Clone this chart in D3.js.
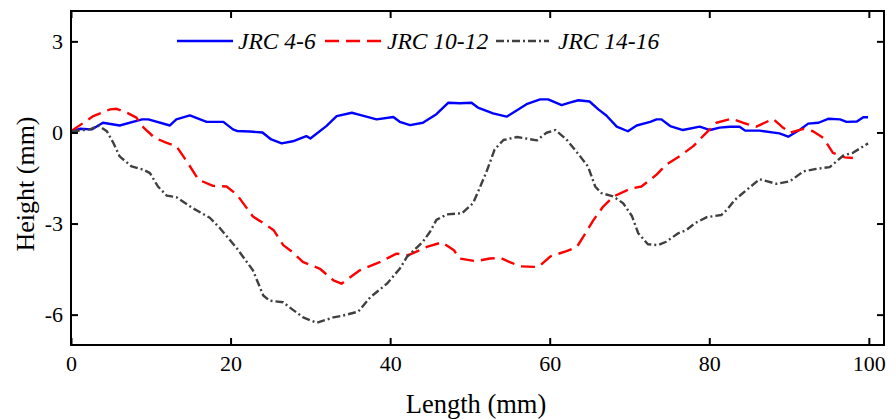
<!DOCTYPE html>
<html>
<head>
<meta charset="utf-8">
<script src="https://cdn.jsdelivr.net/npm/d3@7"></script>
<style>
  body { margin: 0; background: #fff; }
  svg text { font-family: "Liberation Serif", "Times New Roman", Times, serif; }
</style>
</head>
<body>
<div class="main"></div>
<script>
// JRC 4-6 profile
const lenA = [0, 1.1, 2.6, 4.0, 6.1, 8.9, 9.7, 12.4, 13.2, 14.9, 17, 19.1, 20.3, 20.8, 22.4, 24, 25.1, 26.4, 27.8, 29.5, 30, 32, 33.3, 35.2, 36.2, 38.3, 40.4, 41.2, 42.5, 44.1, 45.8, 47.3, 48.7, 50.2, 51, 52.9, 54.6, 57.1, 58.8, 59.8, 61.5, 62.5, 63.6, 65, 66.1, 67.1, 68.4, 69.8, 70.9, 72.6, 73.4, 74, 75.1, 76.7, 78.8, 80.1, 81.3, 82.6, 83.8, 84.5, 86.3, 88.8, 89.9, 91.4, 92.4, 93.7, 94.9, 96.4, 97.2, 98.5, 99.3, 99.9];
const hA = [0.04, 0.12, 0.1, 0.32, 0.23, 0.43, 0.43, 0.23, 0.43, 0.56, 0.35, 0.35, 0.1, 0.05, 0.03, 0, -0.23, -0.36, -0.29, -0.12, -0.2, 0.21, 0.54, 0.65, 0.58, 0.43, 0.51, 0.35, 0.24, 0.32, 0.6, 0.98, 0.96, 0.98, 0.82, 0.63, 0.52, 0.93, 1.09, 1.09, 0.9, 0.98, 1.06, 1.02, 0.76, 0.56, 0.19, 0.04, 0.23, 0.35, 0.43, 0.43, 0.21, 0.08, 0.19, 0.08, 0.16, 0.19, 0.19, 0.06, 0.06, -0.03, -0.14, 0.1, 0.29, 0.32, 0.45, 0.43, 0.35, 0.36, 0.5, 0.5];

// JRC 10-12 profile
const lenB = [0, 2.8, 4.9, 5.7, 7, 8.2, 9.1, 10.5, 12, 13.2, 14.5, 16, 17.8, 19.5, 20.8, 22.8, 24.5, 25.4, 26.6, 27.7, 29.1, 31.2, 32.9, 33.9, 36.2, 38.7, 40.8, 42.3, 44.6, 46.5, 48, 48.7, 50.8, 52.5, 53.8, 55, 56.3, 58.6, 60.1, 62.1, 63.4, 64.2, 65.5, 66.7, 68, 70.1, 71.5, 73.4, 74.6, 76.3, 78, 79.4, 80.9, 82.8, 84.2, 85.9, 88, 89.1, 90.1, 91.8, 93, 94.3, 95.5, 97, 98];
const hB = [0.04, 0.54, 0.76, 0.78, 0.65, 0.49, 0.16, -0.18, -0.34, -0.45, -0.95, -1.56, -1.76, -1.78, -2.05, -2.77, -3.05, -3.22, -3.71, -3.93, -4.27, -4.49, -4.87, -4.98, -4.54, -4.27, -3.99, -4.04, -3.77, -3.62, -3.88, -4.15, -4.24, -4.15, -4.13, -4.27, -4.41, -4.43, -4.08, -3.91, -3.77, -3.44, -2.88, -2.44, -2.11, -1.85, -1.78, -1.39, -1.06, -0.78, -0.45, -0.07, 0.32, 0.45, 0.32, 0.19, 0.45, 0.19, -0.01, 0.12, 0.04, -0.18, -0.67, -0.82, -0.84];

// JRC 14-16 profile
const lenC = [0.1, 2.4, 3.4, 4.5, 5.3, 6.1, 7.6, 9.1, 9.9, 10.9, 12, 13.2, 15.3, 17.4, 18.7, 20.8, 22.8, 24.1, 24.9, 26.6, 27.4, 29.1, 30.8, 32.9, 34.1, 36, 37.5, 39.6, 41.2, 42.1, 44.1, 45, 45.8, 47.1, 49, 50.4, 51.3, 52.1, 53.1, 54.2, 55.9, 58.4, 59.6, 60.7, 62.1, 63.8, 64.8, 65.7, 66.5, 68, 69.2, 70.3, 71.1, 72.3, 73.6, 74.6, 76.1, 77.1, 78.2, 79.7, 81.5, 82.2, 83.2, 84.7, 86.3, 88.4, 90.1, 91.8, 93.4, 95.1, 96.8, 98, 99.9];
const hC = [0.04, 0.1, 0.23, 0.04, -0.34, -0.79, -1.12, -1.23, -1.34, -1.78, -2.08, -2.13, -2.5, -2.81, -3.16, -3.82, -4.54, -5.37, -5.54, -5.59, -5.76, -6.09, -6.27, -6.09, -6.03, -5.9, -5.43, -4.98, -4.49, -4.1, -3.6, -3.27, -2.88, -2.7, -2.66, -2.33, -1.78, -1.28, -0.56, -0.25, -0.15, -0.26, -0.01, 0.08, -0.23, -0.78, -1.12, -1.78, -2.0, -2.11, -2.33, -2.75, -3.32, -3.68, -3.71, -3.6, -3.32, -3.22, -2.99, -2.79, -2.72, -2.55, -2.22, -1.89, -1.54, -1.69, -1.61, -1.28, -1.2, -1.14, -0.76, -0.67, -0.36];

const seriesNames = ["JRC 4-6", "JRC 10-12", "JRC 14-16"];
const xTicks = [0, 20, 40, 60, 80, 100];
const yTicks = [3, 0, -3, -6];

const FONT = "Liberation Serif";

const series = [
  { name: seriesNames[0], x: lenA, y: hA, color: "#0000ff", dash: null },
  { name: seriesNames[1], x: lenB, y: hB, color: "#ff0000", dash: "14,7" },
  { name: seriesNames[2], x: lenC, y: hC, color: "#404040", dash: "8,3,2,3" },
];

let margin = { top: 11, right: 11, bottom: 74, left: 71 };
let fullwidth = 895;
let fullheight = 419;
let width = fullwidth - margin.left - margin.right;
let height = fullheight - margin.top - margin.bottom;

const svgRoot = d3
  .select(".main")
  .append("svg")
  .attr("width", fullwidth)
  .attr("height", fullheight)
  .attr("font-family", FONT);

const svg = svgRoot
  .append("g")
  .attr("transform", "translate(" + margin.left + "," + margin.top + ")");

const x = d3.scaleLinear().domain([0, 101.9]).range([0, width]);
const y = d3.scaleLinear().domain([-7, 4]).range([height, 0]);

// lines
const line = d3
  .line()
  .x((d) => x(d[0]))
  .y((d) => y(d[1]));

series.forEach((s) => {
  const pts = s.x.map((v, i) => [v, s.y[i]]);
  svg
    .append("path")
    .datum(pts)
    .attr("fill", "none")
    .attr("stroke", s.color)
    .attr("stroke-width", 2.4)
    .attr("stroke-dasharray", s.dash)
    .attr("stroke-linejoin", "round")
    .attr("d", line);
});

// axes, ticks inward on all four sides
const plain = (d) => String(d); // keep "-6" with a hyphen like the original
const styleAxis = (g) => {
  g.attr("font-family", FONT);
  g.select(".domain").remove();
  g.selectAll(".tick line").attr("stroke", "#000").attr("stroke-width", 2);
  g.selectAll(".tick text")
    .attr("fill", "#000")
    .attr("font-family", FONT)
    .attr("font-size", 22);
};

svg
  .append("g")
  .attr("transform", "translate(0," + height + ")")
  .call(d3.axisBottom(x).tickValues(xTicks).tickSize(-7).tickPadding(10).tickFormat(plain))
  .call(styleAxis);

svg
  .append("g")
  .call(d3.axisTop(x).tickValues(xTicks).tickSize(-7).tickFormat(""))
  .call(styleAxis);

svg
  .append("g")
  .call(d3.axisLeft(y).tickValues(yTicks).tickSize(-7).tickPadding(8).tickFormat(plain))
  .call(styleAxis);

svg
  .append("g")
  .attr("transform", "translate(" + width + ",0)")
  .call(d3.axisRight(y).tickValues(yTicks).tickSize(-7).tickFormat(""))
  .call(styleAxis);

// frame
svg
  .append("rect")
  .attr("width", width)
  .attr("height", height)
  .attr("fill", "none")
  .attr("stroke", "#000")
  .attr("stroke-width", 2);

// axis titles
svgRoot
  .append("text")
  .attr("x", 476)
  .attr("y", 413)
  .attr("text-anchor", "middle")
  .attr("font-family", FONT)
  .attr("font-size", 26.5)
  .text("Length (mm)");

svgRoot
  .append("text")
  .attr("transform", "translate(34,184) rotate(-90)")
  .attr("text-anchor", "middle")
  .attr("font-family", FONT)
  .attr("font-size", 26)
  .text("Height (mm)");

// legend
const legendPos = [
  { x1: 177, x2: 233, tx: 238 },
  { x1: 325, x2: 381, tx: 387 },
  { x1: 496, x2: 549, tx: 558 },
];
const lg = svgRoot.append("g");
series.forEach((s, i) => {
  const p = legendPos[i];
  lg.append("line")
    .attr("x1", p.x1)
    .attr("x2", p.x2)
    .attr("y1", 41)
    .attr("y2", 41)
    .attr("stroke", s.color)
    .attr("stroke-width", 2.4)
    .attr("stroke-dasharray", s.dash);
  lg.append("text")
    .attr("x", p.tx)
    .attr("y", 49)
    .attr("font-family", FONT)
    .attr("font-size", 23.5)
    .attr("font-style", "italic")
    .text(s.name);
});
</script>
</body>
</html>
